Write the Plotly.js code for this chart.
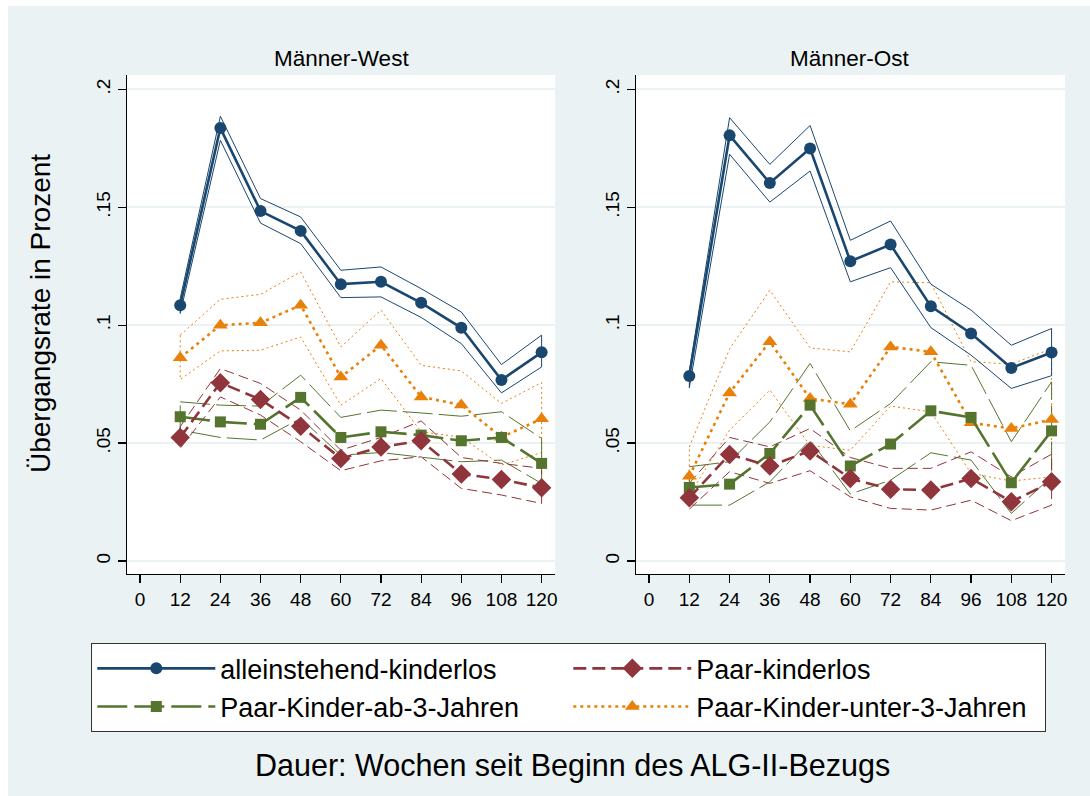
<!DOCTYPE html>
<html>
<head>
<meta charset="utf-8">
<script src="https://cdn.plot.ly/plotly-3.0.1.min.js"></script>
<style>html,body{margin:0;padding:0;background:#ffffff;}#chart{width:1090px;height:796px;}</style>
</head>
<body>
<div id="chart"></div>
<script>
// ---------- DATA ----------
const weeks = [12, 24, 36, 48, 60, 72, 84, 96, 108, 120];
const xTickVals = [0, 12, 24, 36, 48, 60, 72, 84, 96, 108, 120];
const yTickVals = [0, 0.05, 0.1, 0.15, 0.2];
const yTickText = ['0', '.05', '.1', '.15', '.2'];
const seriesNames = ['alleinstehend-kinderlos', 'Paar-kinderlos', 'Paar-Kinder-ab-3-Jahren', 'Paar-Kinder-unter-3-Jahren'];
const panelTitles = ['Männer-West', 'Männer-Ost'];

// Männer-West
const westAllein   = [0.1085, 0.1836, 0.1484, 0.1400, 0.1174, 0.1184, 0.1095, 0.0989, 0.0768, 0.0885];
const westAlleinHi = [0.1114, 0.1886, 0.1537, 0.1459, 0.1233, 0.1247, 0.1155, 0.1056, 0.0833, 0.0958];
const westAlleinLo = [0.1050, 0.1784, 0.1433, 0.1346, 0.1117, 0.1120, 0.1033, 0.0922, 0.0713, 0.0823];
const westPaar     = [0.0524, 0.0756, 0.0685, 0.0572, 0.0435, 0.0484, 0.0510, 0.0369, 0.0346, 0.0311];
const westPaarHi   = [0.0570, 0.0816, 0.0753, 0.0640, 0.0470, 0.0524, 0.0594, 0.0439, 0.0414, 0.0393];
const westPaarLo   = [0.0478, 0.0696, 0.0619, 0.0506, 0.0383, 0.0425, 0.0442, 0.0308, 0.0280, 0.0244];
const westAb3      = [0.0612, 0.0590, 0.0580, 0.0694, 0.0524, 0.0548, 0.0534, 0.0510, 0.0524, 0.0414];
const westAb3Hi    = [0.0675, 0.0661, 0.0657, 0.0788, 0.0609, 0.0640, 0.0628, 0.0614, 0.0633, 0.0520];
const westAb3Lo    = [0.0555, 0.0524, 0.0513, 0.0605, 0.0449, 0.0460, 0.0442, 0.0421, 0.0428, 0.0329];
const westUnter3   = [0.0862, 0.1000, 0.1010, 0.1085, 0.0780, 0.0915, 0.0696, 0.0662, 0.0525, 0.0603];
const westUnter3Hi = [0.0958, 0.1110, 0.1131, 0.1226, 0.0908, 0.1064, 0.0830, 0.0806, 0.0668, 0.0757];
const westUnter3Lo = [0.0770, 0.0891, 0.0894, 0.0950, 0.0661, 0.0774, 0.0548, 0.0525, 0.0407, 0.0460];

// Männer-Ost
const ostAllein    = [0.0785, 0.1805, 0.1603, 0.1749, 0.1271, 0.1342, 0.1080, 0.0965, 0.0819, 0.0884];
const ostAlleinHi  = [0.0806, 0.1880, 0.1682, 0.1847, 0.1360, 0.1442, 0.1174, 0.1064, 0.0915, 0.0986];
const ostAlleinLo  = [0.0735, 0.1725, 0.1522, 0.1654, 0.1184, 0.1244, 0.0990, 0.0873, 0.0732, 0.0786];
const ostPaar      = [0.0268, 0.0452, 0.0403, 0.0467, 0.0350, 0.0304, 0.0301, 0.0350, 0.0251, 0.0336];
const ostPaarHi    = [0.0330, 0.0524, 0.0484, 0.0562, 0.0439, 0.0393, 0.0393, 0.0463, 0.0357, 0.0453];
const ostPaarLo    = [0.0220, 0.0379, 0.0329, 0.0383, 0.0272, 0.0223, 0.0216, 0.0258, 0.0171, 0.0237];
const ostAb3       = [0.0312, 0.0326, 0.0456, 0.0661, 0.0403, 0.0496, 0.0637, 0.0609, 0.0332, 0.0552];
const ostAb3Hi     = [0.0400, 0.0421, 0.0590, 0.0838, 0.0552, 0.0668, 0.0845, 0.0830, 0.0506, 0.0760];
const ostAb3Lo     = [0.0237, 0.0237, 0.0336, 0.0513, 0.0284, 0.0343, 0.0459, 0.0428, 0.0202, 0.0357];
const ostUnter3    = [0.0360, 0.0713, 0.0930, 0.0689, 0.0665, 0.0908, 0.0887, 0.0586, 0.0562, 0.0600];
const ostUnter3Hi  = [0.0484, 0.0900, 0.1148, 0.0904, 0.0887, 0.1184, 0.1180, 0.0845, 0.0835, 0.0900];
const ostUnter3Lo  = [0.0280, 0.0555, 0.0725, 0.0490, 0.0470, 0.0657, 0.0633, 0.0372, 0.0339, 0.0357];

// ---------- STYLES ----------
const styles = [
  {color: '#1a476f', dash: 'solid',      ciDash: 'solid',     symbol: 'circle',       size: 12, width: 2.6},
  {color: '#90353b', dash: '13px,6px',   ciDash: '10px,5px',  symbol: 'diamond',      size: 15, width: 2.6},
  {color: '#55752f', dash: '30px,7px',   ciDash: '30px,6px',  symbol: 'square',       size: 11, width: 2.6},
  {color: '#e8800a', dash: '3px,4px',    ciDash: '2px,3px',   symbol: 'triangle-up',  size: 13, width: 2.6}
];

const panels = [
  {xa: 'x', ya: 'y', sets: [
    [westAllein, westAlleinHi, westAlleinLo],
    [westPaar, westPaarHi, westPaarLo],
    [westAb3, westAb3Hi, westAb3Lo],
    [westUnter3, westUnter3Hi, westUnter3Lo]]},
  {xa: 'x2', ya: 'y2', sets: [
    [ostAllein, ostAlleinHi, ostAlleinLo],
    [ostPaar, ostPaarHi, ostPaarLo],
    [ostAb3, ostAb3Hi, ostAb3Lo],
    [ostUnter3, ostUnter3Hi, ostUnter3Lo]]}
];

const traces = [];
const drawOrder = [3, 2, 1, 0];
panels.forEach(function (p) {
  drawOrder.forEach(function (si) {
    const st = styles[si];
    const hi = p.sets[si][1], lo = p.sets[si][2];
    traces.push({
      type: 'scatter', mode: 'lines', xaxis: p.xa, yaxis: p.ya,
      x: weeks.concat(weeks.slice().reverse(), [weeks[0]]),
      y: hi.concat(lo.slice().reverse(), [hi[0]]),
      line: {color: st.color, width: 1, dash: st.ciDash},
      showlegend: false, hoverinfo: 'skip'
    });
  });
});
panels.forEach(function (p, pi) {
  drawOrder.forEach(function (si) {
    const st = styles[si];
    traces.push({
      type: 'scatter', mode: 'lines+markers', xaxis: p.xa, yaxis: p.ya,
      x: weeks, y: p.sets[si][0], name: seriesNames[si],
      legendrank: si + 1,
      line: {color: st.color, width: st.width, dash: st.dash},
      marker: {color: st.color, symbol: st.symbol, size: st.size, line: {width: 0}},
      showlegend: pi === 0
    });
  });
});

const W = 1090, H = 796;
const px = function (v) { return v / W; };
const py = function (v) { return 1 - v / H; };

const axisCommon = {
  showline: true, linecolor: '#000000', linewidth: 1.3,
  ticks: 'outside', ticklen: 8, tickwidth: 1.3, tickcolor: '#000000',
  zeroline: false, automargin: false, fixedrange: true,
  tickfont: {size: 19, color: '#000000'}
};
const xAxisBase = Object.assign({}, axisCommon, {
  range: [-3.9, 124.0], tickmode: 'array', tickvals: xTickVals,
  showgrid: false
});
const yAxisBase = Object.assign({}, axisCommon, {
  range: [-0.0055, 0.2061], tickmode: 'array', tickvals: yTickVals, ticktext: yTickText,
  tickangle: -90, showgrid: true, gridcolor: '#eaf2f3', gridwidth: 2.2,
  domain: [py(574), py(75)]
});

const layout = {
  width: W, height: H,
  margin: {l: 0, r: 0, t: 0, b: 0},
  paper_bgcolor: '#eaf2f3', plot_bgcolor: '#ffffff',
  font: {family: 'Liberation Sans, Arial, Helvetica, sans-serif', color: '#000000'},
  xaxis: Object.assign({}, xAxisBase, {domain: [px(127), px(555)], anchor: 'y'}),
  yaxis: Object.assign({}, yAxisBase, {anchor: 'x'}),
  xaxis2: Object.assign({}, xAxisBase, {domain: [px(636), px(1065)], anchor: 'y2'}),
  yaxis2: Object.assign({}, yAxisBase, {anchor: 'x2'}),
  showlegend: true,
  legend: {
    orientation: 'h', x: px(91), y: py(643), xanchor: 'left', yanchor: 'top',
    bgcolor: '#ffffff', bordercolor: '#333333', borderwidth: 1.3,
    font: {size: 27, color: '#000000'},
    entrywidth: 343, entrywidthmode: 'pixels', itemwidth: 118,
    traceorder: 'normal', tracegroupgap: 0
  },
  shapes: [
    {type: 'rect', xref: 'paper', yref: 'paper', x0: 0, x1: 1, y0: py(6), y1: 1, fillcolor: '#ffffff', line: {width: 0}, layer: 'below'},
    {type: 'rect', xref: 'paper', yref: 'paper', x0: 0, x1: px(8), y0: 0, y1: 1, fillcolor: '#ffffff', line: {width: 0}, layer: 'below'}
  ],
  annotations: [
    {text: panelTitles[0], xref: 'paper', yref: 'paper', x: px(341), y: py(58), xanchor: 'center', yanchor: 'middle', showarrow: false, font: {size: 22.5}},
    {text: panelTitles[1], xref: 'paper', yref: 'paper', x: px(850), y: py(58), xanchor: 'center', yanchor: 'middle', showarrow: false, font: {size: 22.5}},
    {text: 'Übergangsrate in Prozent', xref: 'paper', yref: 'paper', x: px(40), y: py(314), xanchor: 'center', yanchor: 'middle', textangle: -90, showarrow: false, font: {size: 28}},
    {text: 'Dauer: Wochen seit Beginn des ALG-II-Bezugs', xref: 'paper', yref: 'paper', x: px(572), y: py(765), xanchor: 'center', yanchor: 'middle', showarrow: false, font: {size: 30.5}}
  ]
};

Plotly.newPlot('chart', traces, layout, {displayModeBar: false, staticPlot: true});
</script>
</body>
</html>
